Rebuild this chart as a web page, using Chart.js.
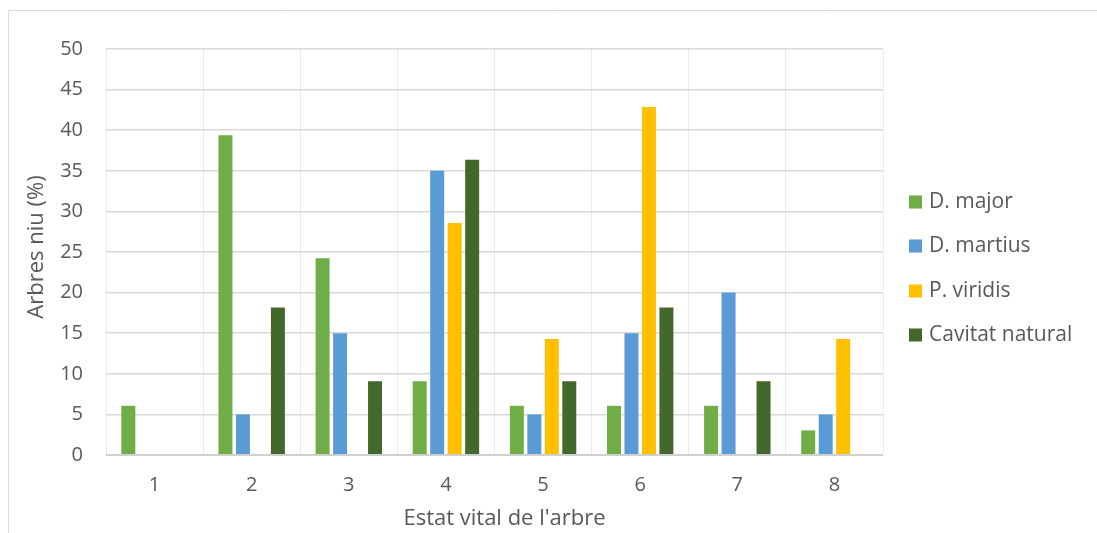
<!DOCTYPE html>
<html>
<head>
<meta charset="utf-8">
<script src="https://cdn.jsdelivr.net/npm/chart.js@4/dist/chart.umd.min.js"></script>
<style>
  html, body { margin: 0; padding: 0; background: #ffffff; }
  #wrap { width: 1097px; height: 533px; position: relative; }
</style>
</head>
<body>
<div id="wrap"><canvas id="chart" width="1097" height="533"></canvas></div>
<script>
// Categories: vitality state of the tree
const categories = ['1', '2', '3', '4', '5', '6', '7', '8'];

// Percentage of nest trees in each state, per excavator
const dMajor = [6.06, 39.39, 24.24, 9.09, 6.06, 6.06, 6.06, 3.03];
const dMartius = [0, 5, 15, 35, 5, 15, 20, 5];
const pViridis = [0, 0, 0, 28.57, 14.29, 42.86, 0, 14.29];
const cavitatNatural = [0, 18.18, 9.09, 36.36, 9.09, 18.18, 9.09, 0];

const seriesNames = ['D. major', 'D. martius', 'P. viridis', 'Cavitat natural'];
const seriesColors = ['#70AD47', '#5B9BD5', '#FFC000', '#43682B'];

const yTicks = [0, 5, 10, 15, 20, 25, 30, 35, 40, 45, 50];

const FONT = '"Open Sans", Lato, sans-serif';
const TEXT = '#595959';
const FS_TICK = 20;
const FS_TITLE = 22;
const FS_LEGEND = 21;

// Frame, axis titles and legend drawn around the plot
const decor = {
  id: 'decor',
  beforeDraw(chart) {
    const c = chart.ctx;
    c.save();
    c.fillStyle = '#ffffff';
    c.fillRect(0, 0, chart.width, chart.height);
    c.strokeStyle = '#D9D9D9';
    c.lineWidth = 1;
    c.beginPath();
    c.moveTo(8.5, chart.height);
    c.lineTo(8.5, 10.5);
    c.lineTo(chart.width, 10.5);
    c.stroke();
    c.restore();
  },
  afterDraw(chart) {
    const c = chart.ctx;
    const a = chart.chartArea;
    c.save();
    c.fillStyle = TEXT;
    c.textBaseline = 'middle';
    // x axis title
    c.font = FS_TITLE + 'px ' + FONT;
    c.textAlign = 'center';
    c.fillText("Estat vital de l'arbre", (a.left + a.right) / 2 + 10, 519);
    // y axis title
    c.save();
    c.translate(37, 247);
    c.rotate(-Math.PI / 2);
    c.fillText('Arbres niu (%)', 0, 0);
    c.restore();
    // legend
    c.font = FS_LEGEND + 'px ' + FONT;
    c.textAlign = 'left';
    const ys = [202, 246, 291, 335];
    chart.data.datasets.forEach((ds, i) => {
      c.fillStyle = ds.backgroundColor;
      c.fillRect(909, ys[i] - 6.5, 13, 13);
      c.fillStyle = TEXT;
      c.fillText(ds.label, 929, ys[i]);
    });
    c.restore();
  }
};

const seriesData = [dMajor, dMartius, pViridis, cavitatNatural];

new Chart(document.getElementById('chart'), {
  type: 'bar',
  data: {
    labels: categories,
    datasets: seriesData.map((d, i) => ({
      label: seriesNames[i],
      data: d,
      backgroundColor: seriesColors[i],
      borderWidth: 0,
      categoryPercentage: 0.72,
      barPercentage: 0.8
    }))
  },
  options: {
    responsive: false,
    animation: false,
    layout: { padding: { left: 10, right: 214, top: 49, bottom: 0 } },
    plugins: { legend: { display: false }, tooltip: { enabled: false } },
    scales: {
      x: {
        grid: { color: '#EBEBEB', lineWidth: 1, drawTicks: false, offset: true },
        border: { display: false },
        ticks: { color: TEXT, font: { family: FONT, size: FS_TICK }, padding: 18 },
        afterFit(scale) { scale.height = 533 - 455; }
      },
      y: {
        min: 0,
        max: 50,
        afterBuildTicks(scale) { scale.ticks = yTicks.map(v => ({ value: v })); },
        grid: {
          color: ctx => ctx.tick && ctx.tick.value === 0 ? '#D0D0D0' : '#D9D9D9',
          lineWidth: ctx => ctx.tick && ctx.tick.value === 0 ? 2 : 1.5,
          drawTicks: false
        },
        border: { display: false },
        ticks: { color: TEXT, font: { family: FONT, size: FS_TICK }, padding: 23 },
        afterFit(scale) { scale.width = 106 - 10; }
      }
    }
  },
  plugins: [decor]
});
</script>
</body>
</html>
